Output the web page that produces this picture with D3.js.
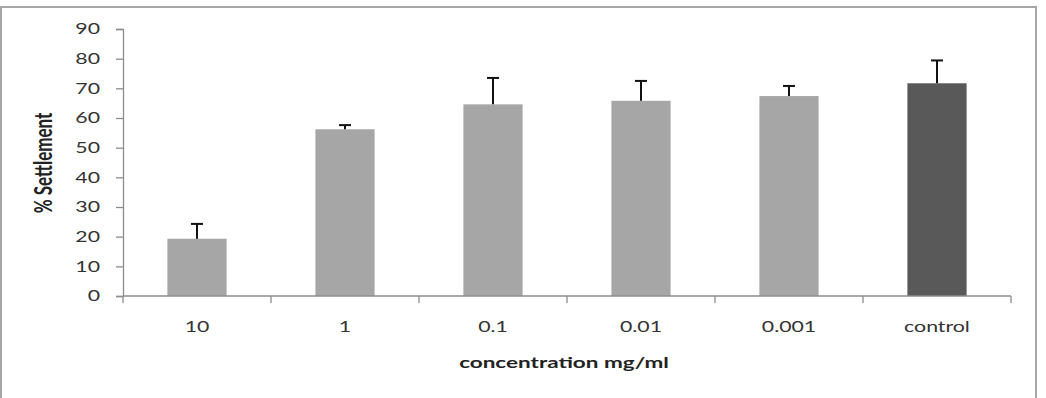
<!DOCTYPE html>
<html>
<head>
<meta charset="utf-8">
<script src="https://cdn.jsdelivr.net/npm/d3@7"></script>
<style>
  body { margin: 0; background: #fff; }
  svg text { font-family: Lato, "Open Sans", sans-serif; }
</style>
</head>
<body>
<div id="chart"></div>
<script>
// data
var categories = ["10", "1", "0.1", "0.01", "0.001", "control"];
var settlement = [19.3, 56.2, 64.6, 65.8, 67.4, 71.7];
var errorUp = [5.0, 1.4, 8.9, 6.7, 3.4, 7.7];
var yTicks = [0, 10, 20, 30, 40, 50, 60, 70, 80, 90];

var W = 1046, H = 398;
var stretch = 1.42; // the source picture is stretched sideways, so is its text

var svg = d3.select("#chart").append("svg")
  .attr("width", W)
  .attr("height", H);

// outer chart frame
svg.append("rect")
  .attr("x", 1).attr("y", 7)
  .attr("width", 1035).attr("height", H + 10)
  .attr("fill", "none")
  .attr("stroke", "#a6a6a6")
  .attr("stroke-width", 2);

var margin = {top: 29, left: 123, right: 35, bottom: 102};
var width = W - margin.left - margin.right,
    height = H - margin.top - margin.bottom;

var g = svg.append("g")
  .attr("transform", "translate(" + margin.left + "," + margin.top + ")");

var x = d3.scaleBand()
  .domain(categories)
  .range([0, width])
  .paddingInner(0.6)
  .paddingOuter(0.3);

var y = d3.scaleLinear()
  .domain([0, 90])
  .range([height, 0]);

// y axis
var yAxis = g.append("g")
  .call(d3.axisLeft(y).tickValues(yTicks).tickSize(7).tickPadding(0));
yAxis.selectAll("line, path").attr("stroke", "#8c8c8c").attr("stroke-width", 1.3);
yAxis.selectAll("text")
  .attr("x", null)
  .attr("transform", "translate(-23,0) scale(" + stretch + ",1)")
  .attr("font-size", 15)
  .attr("fill", "#333");

// bars
g.selectAll("rect.bar")
  .data(settlement)
  .enter()
  .append("rect")
  .attr("class", "bar")
  .attr("x", function(d, i) { return x(categories[i]); })
  .attr("y", function(d) { return y(d); })
  .attr("width", x.bandwidth())
  .attr("height", function(d) { return height - y(d); })
  .attr("fill", function(d, i) { return categories[i] == "control" ? "#595959" : "#a6a6a6"; });

// error bars (upper only)
var err = g.selectAll("g.err")
  .data(settlement)
  .enter()
  .append("g")
  .attr("class", "err");

err.append("line")
  .attr("x1", function(d, i) { return x(categories[i]) + x.bandwidth() / 2; })
  .attr("x2", function(d, i) { return x(categories[i]) + x.bandwidth() / 2; })
  .attr("y1", function(d) { return y(d); })
  .attr("y2", function(d, i) { return y(d + errorUp[i]); })
  .attr("stroke", "#111")
  .attr("stroke-width", 2);

err.append("line")
  .attr("x1", function(d, i) { return x(categories[i]) + x.bandwidth() / 2 - 6; })
  .attr("x2", function(d, i) { return x(categories[i]) + x.bandwidth() / 2 + 6; })
  .attr("y1", function(d, i) { return y(d + errorUp[i]); })
  .attr("y2", function(d, i) { return y(d + errorUp[i]); })
  .attr("stroke", "#111")
  .attr("stroke-width", 2);

// x axis, ticks sit on the band boundaries like Excel
var xAxis = g.append("g")
  .attr("transform", "translate(0," + height + ")");
xAxis.append("line")
  .attr("x1", 0).attr("x2", width)
  .attr("stroke", "#8c8c8c").attr("stroke-width", 1.3);
var step = width / categories.length;
xAxis.selectAll("line.tick")
  .data(d3.range(categories.length + 1))
  .enter()
  .append("line")
  .attr("class", "tick")
  .attr("x1", function(d) { return d * step; })
  .attr("x2", function(d) { return d * step; })
  .attr("y1", 0).attr("y2", 7)
  .attr("stroke", "#8c8c8c").attr("stroke-width", 1.3);
xAxis.selectAll("text")
  .data(categories)
  .enter()
  .append("text")
  .attr("transform", function(d) {
    return "translate(" + (x(d) + x.bandwidth() / 2) + ",31) scale(" + stretch + ",1)";
  })
  .attr("dy", "0.35em")
  .attr("text-anchor", "middle")
  .attr("font-size", 15)
  .attr("fill", "#333")
  .text(function(d) { return d; });

// axis titles
g.append("text")
  .attr("transform", "translate(" + (width / 2 - 3) + "," + (height + 67) + ") scale(1.5,1)")
  .attr("dy", "0.35em")
  .attr("text-anchor", "middle")
  .attr("font-size", 15)
  .attr("font-weight", "bold")
  .attr("fill", "#222")
  .text("concentration mg/ml");

svg.append("text")
  .attr("transform", "translate(44,163) rotate(-90) scale(1," + stretch + ")")
  .attr("dy", "0.35em")
  .attr("text-anchor", "middle")
  .attr("font-size", 17)
  .attr("font-weight", "bold")
  .attr("fill", "#222")
  .text("% Settlement");
</script>
</body>
</html>
